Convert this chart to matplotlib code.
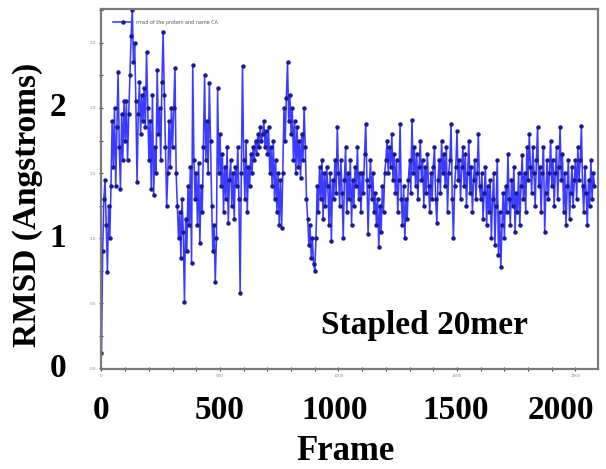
import numpy as np
import matplotlib
matplotlib.use('Agg')
import matplotlib.pyplot as plt
from matplotlib.ticker import MultipleLocator

# RMSD per frame, every 5 frames (rows of 100 frames)
frame_step = 5
rmsd = [
    # 0-95
    0.12, 0.9, 1.3, 1.45, 1.1, 0.74, 1.25, 1.0, 1.4, 1.9, 1.55, 2.0, 1.4, 1.85, 2.28, 1.7, 1.38, 1.95, 1.6, 2.05,
    # 100-195
    1.75, 2.05, 1.6, 1.95, 2.25, 2.55, 2.75, 2.35, 2.5, 2.05, 1.43, 1.95, 2.2, 1.8, 2.1, 1.9, 2.15, 1.85, 2.43, 2.0,
    # 200-295
    1.6, 1.9, 1.38, 2.1, 1.33, 1.7, 1.5, 2.29, 1.8, 2.0, 1.6, 2.2, 2.58, 2.1, 1.7, 1.25, 1.5, 1.9, 1.55, 2.0,
    # 300-395
    1.7, 2.0, 2.31, 1.5, 1.25, 1.0, 1.2, 0.85, 1.3, 1.05, 0.51, 1.15, 0.9, 1.4, 1.1, 1.55, 0.81, 2.33, 1.6, 1.3,
    # 400-495
    1.5, 1.1, 1.58, 0.96, 1.4, 1.2, 1.7, 2.25, 1.6, 1.9, 1.5, 2.19, 1.75, 1.25, 0.9, 1.1, 0.66, 1.0, 2.15, 1.5,
    # 500-595
    1.8, 1.4, 1.65, 1.2, 1.55, 1.3, 1.7, 1.12, 1.45, 1.6, 1.25, 1.5, 1.15, 1.55, 1.4, 1.7, 1.3, 0.58, 1.5, 2.32,
    # 600-695
    1.6, 1.3, 1.75, 1.2, 1.55, 1.4, 1.65, 1.5, 1.7, 1.6, 1.75, 1.65, 1.8, 1.7, 1.85, 1.75, 1.8, 1.9, 1.7, 1.82,
    # 700-795
    1.65, 1.85, 1.5, 1.7, 1.4, 1.75, 1.3, 1.6, 1.2, 1.5, 1.1, 1.45, 1.08, 1.5, 2.0, 1.75, 2.08, 2.35, 1.9, 2.1,
    # 800-895
    1.8, 2.0, 1.6, 1.9, 1.5, 1.85, 1.55, 1.75, 1.46, 1.8, 1.6, 2.0, 1.7, 1.3, 1.15, 0.95, 1.1, 0.85, 1.0, 0.8,
    # 900-995
    0.75, 1.0, 1.4, 1.2, 1.55, 1.3, 1.6, 1.15, 1.5, 1.25, 1.55, 1.4, 1.1, 1.5, 0.98, 1.45, 1.3, 1.6, 1.35, 1.85,
    # 1000-1095
    1.5, 1.25, 1.6, 1.35, 1.0, 1.45, 1.7, 1.2, 1.5, 1.3, 1.6, 1.1, 1.45, 1.25, 1.55, 1.4, 1.7, 1.3, 1.5, 1.2,
    # 1100-1195
    1.5, 1.35, 1.65, 1.88, 1.45, 1.03, 1.4, 1.6, 1.3, 1.5, 1.2, 1.35, 1.1, 1.3, 0.93, 1.25, 1.05, 1.4, 1.2, 1.5,
    # 1200-1295
    1.6, 1.75, 1.5, 1.7, 1.55, 1.8, 1.45, 1.65, 1.35, 1.6, 1.2, 1.45, 1.88, 1.3, 1.1, 1.4, 1.0, 1.3, 1.15, 1.45,
    # 1300-1395
    1.6, 1.35, 1.91, 1.5, 1.7, 1.4, 1.65, 1.3, 1.55, 1.75, 1.45, 1.6, 1.25, 1.55, 1.35, 1.65, 1.4, 1.2, 1.5, 1.3,
    # 1400-1495
    1.55, 1.7, 1.3, 1.12, 1.45, 1.6, 1.35, 1.75, 1.5, 1.65, 1.4, 1.7, 1.2, 1.5, 1.6, 1.88, 1.3, 1.0, 1.4, 1.55,
    # 1500-1595
    1.82, 1.45, 1.6, 1.3, 1.55, 1.7, 1.4, 1.65, 1.25, 1.5, 1.75, 1.35, 1.55, 1.2, 1.45, 1.6, 1.3, 1.5, 1.8, 1.4,
    # 1600-1695
    1.3, 1.5, 1.15, 1.35, 1.55, 1.1, 1.4, 1.2, 1.45, 1.0, 1.3, 1.5, 0.95, 1.25, 1.6, 0.87, 1.2, 0.78, 1.1, 1.35,
    # 1700-1795
    1.0, 1.4, 1.2, 1.65, 1.3, 1.1, 1.45, 1.25, 1.55, 1.05, 1.35, 1.2, 1.5, 1.1, 1.4, 1.64, 1.3, 1.5, 1.2, 1.7,
    # 1800-1895
    1.45, 1.8, 1.55, 1.35, 1.7, 1.5, 1.25, 1.6, 1.85, 1.4, 1.55, 1.2, 1.5, 1.7, 1.05, 1.35, 1.6, 1.3, 1.5, 1.75,
    # 1900-1995
    1.4, 1.6, 1.25, 1.5, 1.7, 1.3, 1.55, 1.85, 1.45, 1.65, 1.2, 1.5, 1.1, 1.4, 1.6, 1.15, 1.35, 1.55, 1.25, 1.45,
    # 2000-2080
    1.6, 1.3, 1.7, 1.45, 1.6, 1.86, 1.4, 1.2, 1.55, 1.35, 1.1, 1.45, 1.25, 1.6, 1.3, 1.5, 1.4,
]
frames = np.arange(len(rmsd)) * frame_step

# big overlaid tick labels and where their centres sit (data units)
x_big_labels = ['0', '500', '1000', '1500', '2000']
x_big_pos = [0, 500, 985, 1495, 1940]
y_big_labels = ['0', '1', '2']
y_big_pos = [0, 1, 2]
legend_label = 'rmsd of the protein and name CA'
title_text = 'Stapled 20mer'

serif = ['Liberation Serif', 'DejaVu Serif']

fig = plt.figure(figsize=(6.06, 4.69), dpi=100)
ax = fig.add_axes([0.1667, 0.2132, 0.8201, 0.7676])

ax.plot(frames, rmsd, color='#3c3cff', lw=1.15, marker='o', ms=2.2,
        mfc='#1a1a90', mec='#1a1a90', label=legend_label)

ax.set_xlim(-2, 2095)
ax.set_ylim(-0.005, 2.76)

# small VMD style tick labels
ax.xaxis.set_major_locator(MultipleLocator(500))
ax.xaxis.set_minor_locator(MultipleLocator(100))
ax.yaxis.set_major_locator(MultipleLocator(0.5))
ax.yaxis.set_minor_locator(MultipleLocator(0.25))
ax.tick_params(which='both', direction='inout', length=3, width=0.8,
               color='#444444', labelsize=3, labelcolor='#888888', pad=2)
for s in ax.spines.values():
    s.set_color('#7a7a7a')
    s.set_linewidth(1.6)

leg = ax.legend(loc='upper left', bbox_to_anchor=(0.02, 0.975), frameon=False,
                fontsize=3.5, handlelength=4, borderaxespad=0)
for t in leg.get_texts():
    t.set_color('#555555')

# big bold labels overlaid on the screenshot
for lab, pos in zip(x_big_labels, x_big_pos):
    ax.text(pos, -0.114, lab, transform=ax.get_xaxis_transform(),
            ha='center', va='center', fontsize=24, fontweight='bold', family=serif)
for lab, pos in zip(y_big_labels, y_big_pos):
    ax.text(-0.087, pos, lab, transform=ax.get_yaxis_transform(),
            ha='center', va='center', fontsize=24, fontweight='bold', family=serif)

ax.text(0.491, -0.23, 'Frame', transform=ax.transAxes, ha='center', va='center',
        fontsize=25, fontweight='bold', family=serif)
ax.text(-0.147, 0.456, 'RMSD (Angstroms)', transform=ax.transAxes, ha='center',
        va='center', rotation=90, fontsize=24, fontweight='bold', family=serif)
ax.text(0.65, 0.122, title_text, transform=ax.transAxes, ha='center', va='center',
        fontsize=24, fontweight='bold', family=serif)

fig.savefig('out.png', dpi=100)
